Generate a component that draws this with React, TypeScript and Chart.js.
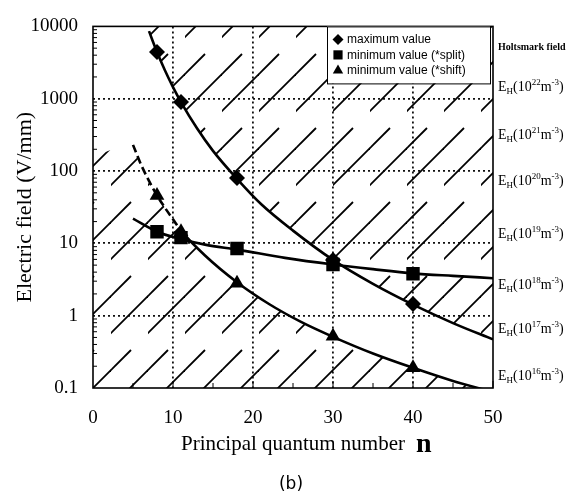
import React, { useEffect, useRef } from 'react';
import { Chart, registerables } from 'chart.js';

Chart.register(...registerables);

// ---- data ----
const markerN = [8, 11, 18, 30, 40];
const maxValues = [4430, 900, 80, 5.9, 1.45];
const splitValues = [14.5, 12, 8.5, 5.1, 3.8];
const shiftValues = [46, 14.5, 2.8, 0.52, 0.19];

const maxCurveN = [7, 8, 9, 10, 11, 13, 15, 18, 21, 25, 30, 35, 40, 45, 50];
const maxCurveE = [8600, 4430, 2460, 1450, 900, 390, 190, 78, 35, 15, 5.9, 2.75, 1.42, 0.79, 0.47];
const splitCurveN = [5, 8, 11, 14, 18, 24, 30, 35, 40, 45, 50];
const splitCurveE = [22, 14.5, 11.5, 9.6, 8.2, 6.3, 5.1, 4.4, 3.85, 3.55, 3.3];
const shiftCurveN = [5, 6, 7, 8, 9, 10, 11, 14, 18, 22, 26, 30, 35, 40, 45, 50];
const shiftCurveE = [230, 123, 73, 46, 31, 21.5, 15, 6.8, 2.9, 1.45, 0.82, 0.51, 0.3, 0.19, 0.125, 0.088];
const shiftDashedUntil = 11;
const lowerHatchLeftN = [0];
const lowerHatchLeftE = [160];

const xTicks = [0, 10, 20, 30, 40, 50];
const yTicks = [0.1, 1, 10, 100, 1000, 10000];
const holtsmarkExponents = ['22', '21', '20', '19', '18', '17', '16'];
const holtsmarkLevels = [1500, 330, 75, 14, 2.7, 0.68, 0.15];
const legendLabels = ['maximum value', 'minimum value (*split)', 'minimum value (*shift)'];
const legendStyles = ['rectRot', 'rect', 'triangle'];

const SERIF = '"Liberation Serif", "Times New Roman", serif';
const SANS = '"Liberation Sans", Arial, sans-serif';

function makeHatch(): any {
  const c = document.createElement('canvas');
  const W = 37, H = 74;
  c.width = W;
  c.height = H;
  const g = c.getContext('2d')!;
  g.strokeStyle = '#000';
  g.lineWidth = 1.8;
  g.lineCap = 'butt';
  const seg = (x1: number, y1: number, x2: number, y2: number) => {
    g.beginPath();
    g.moveTo(x1, y1);
    g.lineTo(x2, y2);
    g.stroke();
  };
  seg(-3, 40, 40, -3);
  seg(-3, 77, 20, 54);
  seg(-3, 3, 3, -3);
  seg(34, 77, 40, 71);
  return g.createPattern(c, 'repeat');
}

function drawMarker(ctx: CanvasRenderingContext2D, style: string, x: number, y: number, r: number) {
  ctx.beginPath();
  if (style === 'rectRot') {
    ctx.moveTo(x, y - r);
    ctx.lineTo(x + r, y);
    ctx.lineTo(x, y + r);
    ctx.lineTo(x - r, y);
  } else if (style === 'rect') {
    const s = r * Math.SQRT1_2;
    ctx.rect(x - s, y - s, 2 * s, 2 * s);
  } else {
    ctx.moveTo(x, y - r);
    ctx.lineTo(x + r * 0.866, y + r * 0.5);
    ctx.lineTo(x - r * 0.866, y + r * 0.5);
  }
  ctx.closePath();
  ctx.fill();
}

const decorPlugin = {
  id: 'decor',
  afterDraw(chart: any) {
    const { ctx, chartArea: a, scales } = chart;
    const xs = scales.x;
    const ys = scales.y;
    ctx.save();
    ctx.strokeStyle = '#000';
    ctx.fillStyle = '#000';
    const line = (x1: number, y1: number, x2: number, y2: number) => {
      ctx.beginPath();
      ctx.moveTo(x1, y1);
      ctx.lineTo(x2, y2);
      ctx.stroke();
    };
    // minor ticks
    ctx.lineWidth = 1;
    for (let d = 0; d < yTicks.length - 1; d++) {
      for (let m = 2; m < 10; m++) {
        const y = ys.getPixelForValue(yTicks[d] * m);
        line(a.left, y, a.left + 4, y);
      }
    }
    for (let i = 0; i < xTicks.length - 1; i++) {
      const xm = xs.getPixelForValue((xTicks[i] + xTicks[i + 1]) / 2);
      line(xm, a.bottom, xm, a.bottom - 5);
      const xM = xs.getPixelForValue(xTicks[i + 1]);
      line(xM, a.bottom, xM, a.bottom - 7);
    }
    // frame
    ctx.lineWidth = 1.6;
    ctx.strokeRect(a.left, a.top, a.right - a.left, a.bottom - a.top);

    // legend box
    const bw = 163, bh = 57;
    const bx = a.right - bw - 3;
    const by = a.top;
    ctx.fillStyle = '#fff';
    ctx.fillRect(bx, by, bw, bh);
    ctx.lineWidth = 1;
    ctx.strokeRect(bx + 0.5, by + 0.5, bw, bh);
    ctx.fillStyle = '#000';
    ctx.font = `12px ${SANS}`;
    ctx.textBaseline = 'middle';
    ctx.textAlign = 'left';
    legendLabels.forEach((lab, i) => {
      const yy = by + 13 + i * 15.5;
      drawMarker(ctx, legendStyles[i], bx + 11, yy, legendStyles[i] === 'rect' ? 6.5 : legendStyles[i] === 'triangle' ? 6 : 5.5);
      ctx.fillText(lab, bx + 20, yy + 0.5);
    });

    // Holtsmark labels on the right
    const rx = a.right + 5;
    ctx.font = `bold 10px ${SERIF}`;
    ctx.fillText('Holtsmark field', rx, 47);
    ctx.textBaseline = 'alphabetic';
    holtsmarkLevels.forEach((lv, i) => {
      const y = ys.getPixelForValue(lv) + 5;
      let x = rx;
      const put = (t: string, size: number, dy: number) => {
        ctx.font = `${size}px ${SERIF}`;
        ctx.fillText(t, x, y + dy);
        x += ctx.measureText(t).width;
      };
      put('E', 14, 0);
      put('H', 9, 3);
      put('(10', 14, 0);
      put(holtsmarkExponents[i], 9, -6);
      put('m', 14, 0);
      put('-3', 9, -6);
      put(')', 14, 0);
    });

    // big "n" after the x title
    ctx.font = `21px ${SERIF}`;
    const tw = ctx.measureText('Principal quantum number').width;
    const cx = (a.left + a.right) / 2;
    ctx.font = `bold 28px ${SERIF}`;
    ctx.textBaseline = 'alphabetic';
    ctx.fillText('n', cx + tw / 2 + 11, 452);

    // (b)
    ctx.font = `17px "DejaVu Sans", sans-serif`;
    ctx.textAlign = 'center';
    ctx.textBaseline = 'middle';
    ctx.fillText('(b)', 291, 485);
    ctx.restore();
  },
};

export default function App() {
  const ref = useRef<HTMLCanvasElement>(null);
  useEffect(() => {
    const canvas = ref.current!;
    const hatch = makeHatch();
    const pts = (ns: number[], es: number[]) => ns.map((n, i) => ({ x: n, y: es[i] }));
    const markerDs = (label: string, vals: number[], style: string, r: number) => ({
      label,
      data: pts(markerN, vals),
      showLine: false,
      pointStyle: style,
      pointRadius: r,
      pointBackgroundColor: '#000',
      pointBorderColor: '#000',
      pointBorderWidth: 0,
      borderColor: '#000',
      backgroundColor: '#000',
    });
    const curveBase = {
      pointRadius: 0,
      borderColor: '#000',
      borderWidth: 2.6,
      cubicInterpolationMode: 'monotone',
      fill: false,
    };
    const chart = new Chart(canvas, {
      type: 'line',
      data: {
        datasets: [
          markerDs(legendLabels[0], maxValues, 'rectRot', 8),
          markerDs(legendLabels[1], splitValues, 'rect', 9.5),
          markerDs(legendLabels[2], shiftValues, 'triangle', 8.5),
          { ...curveBase, label: 'max curve', data: pts(maxCurveN, maxCurveE), fill: 'end', backgroundColor: hatch },
          { ...curveBase, label: 'split curve', data: pts(splitCurveN, splitCurveE) },
          {
            ...curveBase,
            label: 'shift curve',
            data: pts(shiftCurveN, shiftCurveE),
            segment: {
              borderDash: (c: any) => (c.p0.parsed.x < shiftDashedUntil ? [8, 4] : undefined),
            },
          },
          {
            ...curveBase,
            label: 'lower hatch',
            borderColor: 'rgba(0,0,0,0)',
            borderWidth: 1,
            data: pts(lowerHatchLeftN.concat(shiftCurveN), lowerHatchLeftE.concat(shiftCurveE)),
            fill: 'start',
            backgroundColor: hatch,
          },
        ] as any,
      },
      options: {
        animation: false,
        responsive: false,
        devicePixelRatio: 1,
        events: [],
        layout: { padding: { left: 0, top: 20, right: 78, bottom: 0 } },
        plugins: { legend: { display: false }, tooltip: { enabled: false } },
        scales: {
          x: {
            type: 'linear',
            min: 0,
            max: 50,
            afterFit: (s: any) => {
              s.height = 108;
            },
            afterBuildTicks: (s: any) => {
              s.ticks = xTicks.map((v) => ({ value: v }));
            },
            ticks: {
              color: '#000',
              font: { family: SERIF, size: 19 },
              padding: 19,
              maxRotation: 0,
              autoSkip: false,
            },
            grid: {
              drawTicks: false,
              lineWidth: 1.8,
              color: (c: any) =>
                c.tick && (c.tick.value === xTicks[0] || c.tick.value === xTicks[xTicks.length - 1])
                  ? 'rgba(0,0,0,0)'
                  : '#111',
            },
            border: { display: false, dash: [2, 3] },
            title: {
              display: true,
              text: 'Principal quantum number',
              color: '#000',
              font: { family: SERIF, size: 21 },
              padding: { top: 0, bottom: 39 },
            },
          },
          y: {
            type: 'logarithmic',
            min: 0.1,
            max: 10000,
            afterFit: (s: any) => {
              s.width = 93;
            },
            afterBuildTicks: (s: any) => {
              s.ticks = yTicks.map((v) => ({ value: v }));
            },
            ticks: {
              color: '#000',
              font: { family: SERIF, size: 19 },
              padding: 15,
              autoSkip: false,
              callback: (v: any) => String(v),
            },
            grid: {
              drawTicks: false,
              lineWidth: 1.8,
              color: (c: any) =>
                c.tick && (c.tick.value === yTicks[0] || c.tick.value === yTicks[yTicks.length - 1])
                  ? 'rgba(0,0,0,0)'
                  : '#111',
            },
            border: { display: false, dash: [2, 3] },
            title: {
              display: true,
              text: 'Electric field (V/mm)',
              color: '#000',
              font: { family: SERIF, size: 22 },
              padding: { top: 12, bottom: 0 },
            },
          },
        },
      } as any,
      plugins: [decorPlugin],
    });
    return () => chart.destroy();
  }, []);
  return (
    <div style={{ position: 'absolute', left: 0, top: 0, width: 571, height: 496, background: '#fff' }}>
      <canvas ref={ref} width={571} height={496} style={{ display: 'block', width: 571, height: 496 }} />
    </div>
  );
}
